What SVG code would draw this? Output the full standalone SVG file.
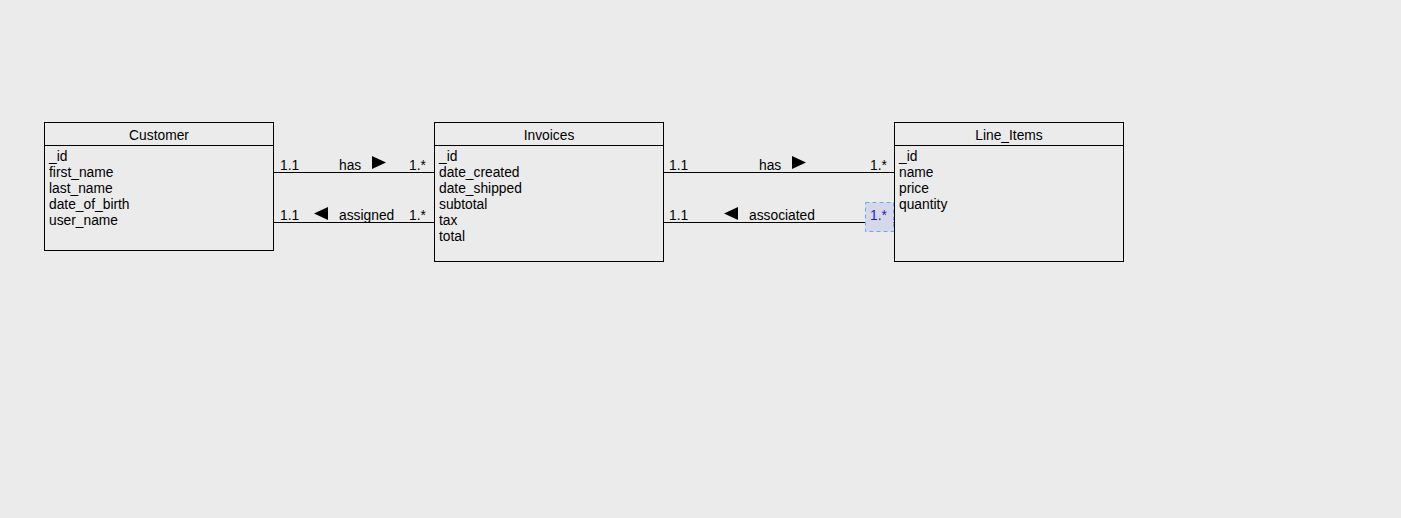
<svg xmlns="http://www.w3.org/2000/svg" width="1401" height="518" viewBox="0 0 1401 518">
<style>
.bg{fill:#ebebeb}
.box{fill:#ebebeb;stroke:#000;stroke-width:1}
.ln{stroke:#000;stroke-width:1;fill:none}
text{font-family:"Liberation Sans",Arial,sans-serif;font-size:13.8px;fill:#000}
.hd{text-anchor:middle}
.arr{fill:#000}
.sel{fill:#d6d8ea;stroke:#66a8ff;stroke-width:1;stroke-dasharray:4 3}
.selt{fill:#1a1ad0}
</style>
<rect class="bg" x="0" y="0" width="1401" height="518"/>
<g id="connectors">
<line class="ln" x1="273.5" y1="172.5" x2="434.5" y2="172.5"/>
<line class="ln" x1="273.5" y1="222.5" x2="434.5" y2="222.5"/>
<line class="ln" x1="663.5" y1="172.5" x2="894.5" y2="172.5"/>
<line class="ln" x1="663.5" y1="222.5" x2="894.5" y2="222.5"/>
<text x="280" y="170">1.1</text>
<text x="339" y="170">has</text>
<polygon class="arr" points="372,156 386,162.5 372,169"/>
<text x="409" y="170">1.*</text>
<text x="280" y="220">1.1</text>
<polygon class="arr" points="328,207 314,213.5 328,220"/>
<text x="339" y="220">assigned</text>
<text x="409" y="220">1.*</text>
<text x="669" y="170">1.1</text>
<text x="759" y="170">has</text>
<polygon class="arr" points="792,156 806,162.5 792,169"/>
<text x="870" y="170">1.*</text>
<text x="669" y="220">1.1</text>
<polygon class="arr" points="738,207 724,213.5 738,220"/>
<text x="749" y="220">associated</text>
<rect class="sel" x="865.5" y="202.5" width="28" height="29"/>
<text class="selt" x="870" y="220">1.*</text>
</g>
<g id="customer">
<rect class="box" x="44.5" y="122.5" width="229" height="128"/>
<line class="ln" x1="44.5" y1="145.5" x2="273.5" y2="145.5"/>
<text class="hd" x="159" y="140">Customer</text>
<text x="49" y="160.5">_id</text>
<text x="49" y="176.5">first_name</text>
<text x="49" y="192.5">last_name</text>
<text x="49" y="208.5">date_of_birth</text>
<text x="49" y="224.5">user_name</text>
</g>
<g id="invoices">
<rect class="box" x="434.5" y="122.5" width="229" height="139"/>
<line class="ln" x1="434.5" y1="145.5" x2="663.5" y2="145.5"/>
<text class="hd" x="549" y="140">Invoices</text>
<text x="439" y="160.5">_id</text>
<text x="439" y="176.5">date_created</text>
<text x="439" y="192.5">date_shipped</text>
<text x="439" y="208.5">subtotal</text>
<text x="439" y="224.5">tax</text>
<text x="439" y="240.5">total</text>
</g>
<g id="line_items">
<rect class="box" x="894.5" y="122.5" width="229" height="139"/>
<line class="ln" x1="894.5" y1="145.5" x2="1123.5" y2="145.5"/>
<text class="hd" x="1009" y="140">Line_Items</text>
<text x="899" y="160.5">_id</text>
<text x="899" y="176.5">name</text>
<text x="899" y="192.5">price</text>
<text x="899" y="208.5">quantity</text>
</g>
</svg>
